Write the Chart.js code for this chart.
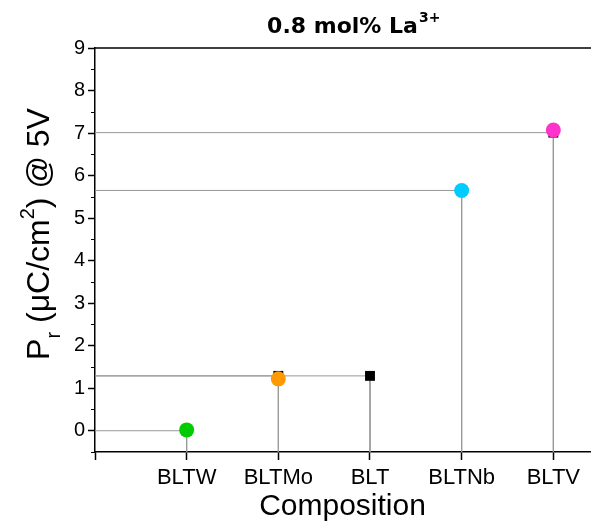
<!DOCTYPE html>
<html>
<head>
<meta charset="utf-8">
<script src="https://cdn.jsdelivr.net/npm/chart.js@4.4.1/dist/chart.umd.min.js"></script>
<style>
  body { margin: 0; background: #fff; }
  #wrap { width: 591px; height: 530px; }
</style>
</head>
<body>
<div id="wrap"><canvas id="chart" width="591" height="530"></canvas></div>
<script>
// Compositions, placed at x = 1..5
const compositions = ['BLTW', 'BLTMo', 'BLT', 'BLTNb', 'BLTV'];
// Black squares (Pr in uC/cm2)
const prSquares = [0.0, 1.29, 1.29, 5.65, 7.01];
// Coloured circles (no circle for BLT)
const prCircles = [0.02, 1.22, null, 5.65, 7.07];
const circleColors = ['#00cc00', '#ff9900', null, '#00ccff', '#ff33cc'];
// Y tick labels (integers only, minor ticks at halves)
const yTickLabels = ['0', '1', '2', '3', '4', '5', '6', '7', '8', '9'];

const X_MIN = 0, X_MAX = 5.4;
const Y_MIN = -0.5, Y_MAX = 9;

const FONT = '"Liberation Sans", Arial, sans-serif';

// Drop lines: from the left axis to each square, then down to the bottom axis
const dropLines = prSquares.map((v, i) => ({
    data: [{ x: X_MIN, y: v }, { x: i + 1, y: v }, { x: i + 1, y: Y_MIN }],
    showLine: true,
    borderColor: '#999999',
    borderWidth: 1,
    pointRadius: 0,
    order: 3
}));

const squares = {
    data: prSquares.map((v, i) => ({ x: i + 1, y: v })),
    pointStyle: 'rect',
    pointRadius: 7,
    backgroundColor: '#000000',
    borderWidth: 0,
    order: 2
};

const circlePts = [];
const circleCols = [];
prCircles.forEach((v, i) => {
    if (v !== null) {
        circlePts.push({ x: i + 1, y: v });
        circleCols.push(circleColors[i]);
    }
});
const circles = {
    data: circlePts,
    pointStyle: 'circle',
    pointRadius: 7.5,
    backgroundColor: circleCols,
    borderWidth: 0,
    order: 1
};

// Extra drawing: top frame, minor ticks, titles with sub/superscripts
const decorPlugin = {
    id: 'decor',
    afterDraw(chart) {
        const { ctx, chartArea } = chart;
        const yScale = chart.scales.y;
        ctx.save();
        ctx.strokeStyle = '#000';
        ctx.lineWidth = 1.5;
        ctx.beginPath();
        ctx.moveTo(chartArea.left, chartArea.top);
        ctx.lineTo(chartArea.right + 1, chartArea.top);
        ctx.stroke();

        // minor ticks on y axis
        ctx.lineWidth = 1;
        yScale.ticks.forEach(t => {
            if (!Number.isInteger(t.value)) {
                const py = Math.round(yScale.getPixelForValue(t.value)) + 0.5;
                ctx.beginPath();
                ctx.moveTo(chartArea.left - 4, py);
                ctx.lineTo(chartArea.left, py);
                ctx.stroke();
            }
        });

        // chart title
        ctx.fillStyle = '#000';
        ctx.textBaseline = 'alphabetic';
        ctx.font = 'bold 22px "DejaVu Sans", sans-serif';
        const main = '0.8 mol% La';
        const w = ctx.measureText(main).width;
        const cx = (chartArea.left + chartArea.right) / 2;
        ctx.fillText(main, cx - w / 2, 33);
        ctx.font = 'bold 14px "DejaVu Sans", sans-serif';
        ctx.fillText('3+', cx + w / 2 + 1, 22);

        // y axis title
        const parts = [
            { t: 'P', size: 32, dy: 0 },
            { t: 'r', size: 20, dy: 11 },
            { t: ' (\u03BCC/cm', size: 32, dy: 0 },
            { t: '2', size: 20, dy: -15 },
            { t: ') @ 5V', size: 32, dy: 0 }
        ];
        let total = 0;
        parts.forEach(p => {
            ctx.font = p.size + 'px ' + FONT;
            p.w = ctx.measureText(p.t).width;
            total += p.w;
        });
        ctx.translate(49, (chartArea.top + chartArea.bottom) / 2 - 16);
        ctx.rotate(-Math.PI / 2);
        let x = -total / 2;
        parts.forEach(p => {
            ctx.font = p.size + 'px ' + FONT;
            ctx.fillText(p.t, x, p.dy);
            x += p.w;
        });
        ctx.restore();
    }
};

new Chart(document.getElementById('chart'), {
    type: 'scatter',
    data: { datasets: [...dropLines, squares, circles] },
    options: {
        responsive: false,
        animation: false,
        layout: { autoPadding: false, padding: { top: 48, right: 1, left: 0, bottom: 0 } },
        plugins: {
            legend: { display: false },
            tooltip: { enabled: false }
        },
        scales: {
            x: {
                type: 'linear',
                position: 'bottom',
                min: X_MIN,
                max: X_MAX,
                afterFit: s => {
                    s.height = 78;
                    s.paddingLeft = 0;
                    s.paddingRight = 0;
                },
                ticks: {
                    stepSize: 1,
                    includeBounds: false,
                    autoSkip: false,
                    minRotation: 0,
                    maxRotation: 0,
                    color: '#000',
                    padding: 5,
                    font: { family: FONT, size: 22 },
                    callback: v => compositions[v - 1] || ''
                },
                grid: {
                    drawOnChartArea: false,
                    tickLength: 8,
                    tickColor: '#000',
                    tickWidth: 1.5
                },
                border: { color: '#000', width: 1.5 },
                title: {
                    display: true,
                    text: 'Composition',
                    color: '#000',
                    font: { family: FONT, size: 30 },
                    padding: { top: 0, bottom: 5 }
                }
            },
            y: {
                min: Y_MIN,
                max: Y_MAX,
                afterFit: s => {
                    s.width = 95;
                    s.paddingTop = 0;
                    s.paddingBottom = 0;
                },
                ticks: {
                    stepSize: 0.5,
                    autoSkip: false,
                    color: '#000',
                    padding: 3,
                    font: { family: FONT, size: 20 },
                    callback: v => Number.isInteger(v) && v >= 0 ? yTickLabels[v] : ''
                },
                grid: {
                    drawOnChartArea: false,
                    tickLength: 7,
                    tickWidth: 1.5,
                    tickColor: c => Number.isInteger(c.tick.value) ? '#000' : 'rgba(0,0,0,0)'
                },
                border: { color: '#000', width: 1.5 }
            }
        }
    },
    plugins: [decorPlugin]
});
</script>
</body>
</html>
